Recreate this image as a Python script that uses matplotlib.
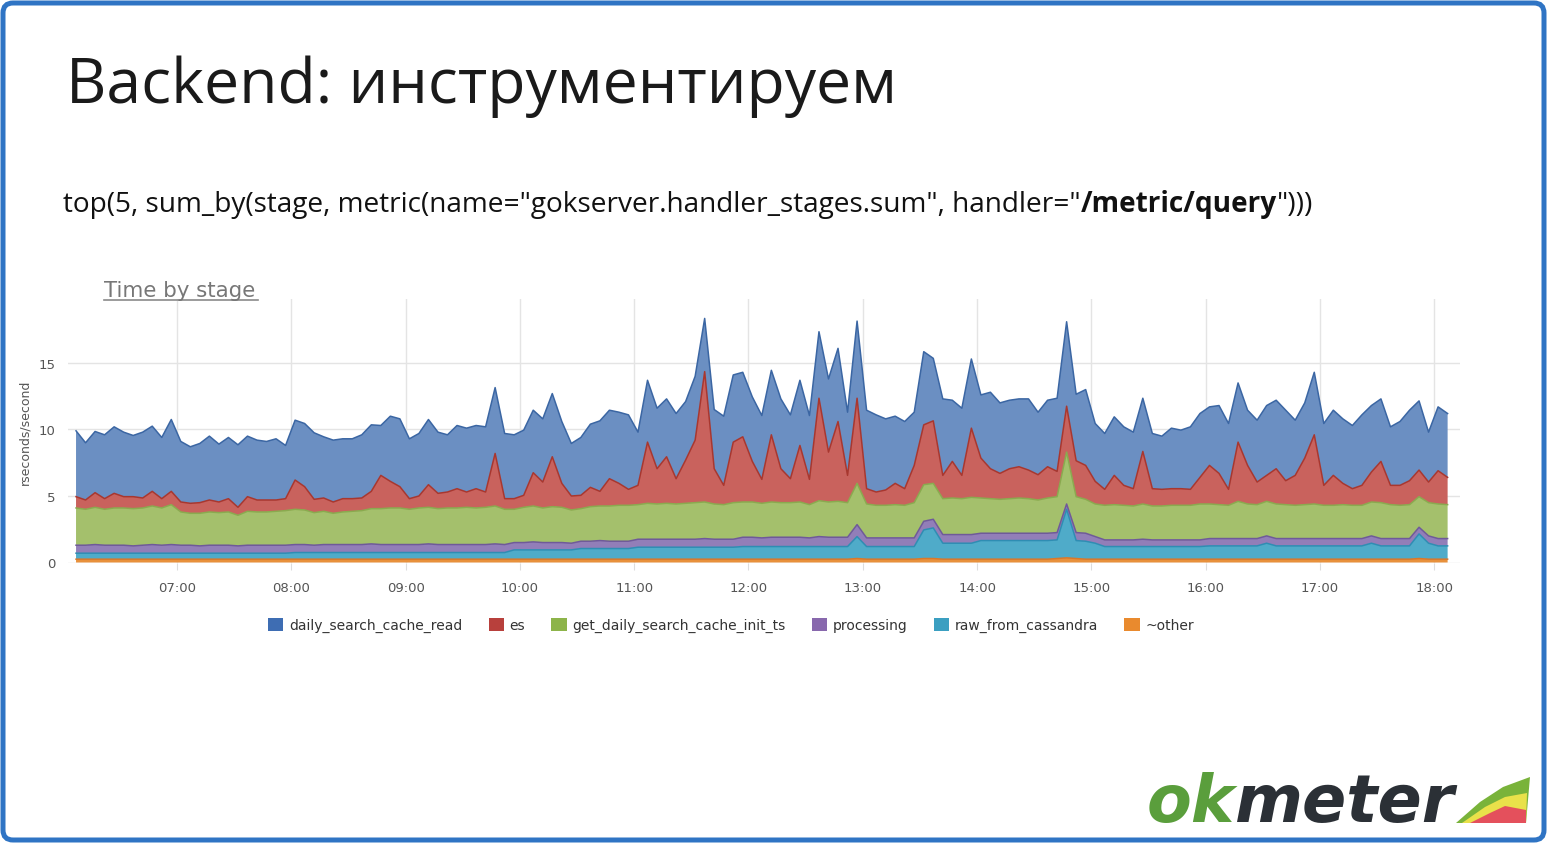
import numpy as np
import matplotlib
matplotlib.use("Agg")
import matplotlib.pyplot as plt
from matplotlib.patches import Patch, FancyBboxPatch, Polygon
from matplotlib.transforms import IdentityTransform

# --- данные (чтение с картинки), шаг 5 минут, старт 06:07 ---
start_hour = 6 + 7 / 60
step_min = 5

other = [0.25, 0.25, 0.25, 0.25, 0.25, 0.25, 0.25, 0.25, 0.25, 0.25,
         0.25, 0.25, 0.25, 0.25, 0.25, 0.25, 0.25, 0.25, 0.25, 0.25,
         0.25, 0.25, 0.25, 0.25, 0.25, 0.25, 0.25, 0.25, 0.25, 0.25,
         0.25, 0.25, 0.25, 0.25, 0.25, 0.25, 0.25, 0.25, 0.25, 0.25,
         0.25, 0.25, 0.25, 0.25, 0.25, 0.25, 0.25, 0.25, 0.25, 0.25,
         0.25, 0.25, 0.25, 0.25, 0.25, 0.25, 0.25, 0.25, 0.25, 0.25,
         0.25, 0.25, 0.25, 0.25, 0.25, 0.25, 0.25, 0.25, 0.25, 0.25,
         0.25, 0.25, 0.25, 0.25, 0.25, 0.25, 0.25, 0.25, 0.25, 0.25,
         0.25, 0.25, 0.3, 0.25, 0.25, 0.25, 0.25, 0.25, 0.25, 0.3,
         0.3, 0.25, 0.25, 0.25, 0.25, 0.25, 0.25, 0.25, 0.25, 0.25,
         0.25, 0.25, 0.25, 0.3, 0.35, 0.3, 0.25, 0.25, 0.25, 0.25,
         0.25, 0.25, 0.25, 0.25, 0.25, 0.25, 0.25, 0.25, 0.25, 0.25,
         0.25, 0.25, 0.25, 0.25, 0.25, 0.25, 0.25, 0.25, 0.25, 0.25,
         0.25, 0.25, 0.25, 0.25, 0.25, 0.25, 0.25, 0.25, 0.25, 0.25,
         0.25, 0.3, 0.25, 0.25, 0.25]

raw = [0.45, 0.45, 0.45, 0.45, 0.45, 0.45, 0.45, 0.45, 0.45, 0.45,
       0.45, 0.45, 0.45, 0.45, 0.45, 0.45, 0.45, 0.45, 0.45, 0.45,
       0.45, 0.45, 0.45, 0.5, 0.5, 0.5, 0.5, 0.5, 0.5, 0.5,
       0.5, 0.5, 0.5, 0.5, 0.5, 0.5, 0.5, 0.5, 0.5, 0.5,
       0.5, 0.5, 0.5, 0.5, 0.5, 0.5, 0.7, 0.7, 0.7, 0.7,
       0.7, 0.7, 0.7, 0.8, 0.8, 0.8, 0.8, 0.8, 0.8, 0.9,
       0.9, 0.9, 0.9, 0.9, 0.9, 0.9, 0.9, 0.9, 0.9, 0.9,
       0.95, 0.95, 0.95, 0.95, 0.95, 0.95, 0.95, 0.95, 0.95, 0.95,
       0.95, 0.95, 1.65, 0.95, 0.95, 0.95, 0.95, 0.95, 0.95, 2.15,
       2.3, 1.2, 1.2, 1.2, 1.2, 1.4, 1.4, 1.4, 1.4, 1.4,
       1.4, 1.4, 1.4, 1.4, 3.65, 1.35, 1.35, 1.2, 0.95, 0.95,
       0.95, 0.95, 0.95, 0.95, 0.95, 0.95, 0.95, 0.95, 0.95, 1.0,
       1.0, 1.0, 1.0, 1.0, 1.0, 1.2, 1.0, 1.0, 1.0, 1.0,
       1.0, 1.0, 1.0, 1.0, 1.0, 1.0, 1.2, 1.0, 1.0, 1.0,
       1.0, 1.85, 1.2, 1.0, 1.0]

processing = [0.6, 0.6, 0.65, 0.6, 0.6, 0.6, 0.55, 0.6, 0.65, 0.6,
              0.65, 0.6, 0.6, 0.55, 0.6, 0.6, 0.6, 0.55, 0.6, 0.6,
              0.6, 0.6, 0.6, 0.6, 0.6, 0.55, 0.6, 0.6, 0.6, 0.6,
              0.6, 0.65, 0.6, 0.6, 0.6, 0.6, 0.6, 0.65, 0.6, 0.6,
              0.6, 0.6, 0.6, 0.6, 0.65, 0.6, 0.55, 0.55, 0.6, 0.55,
              0.55, 0.55, 0.5, 0.55, 0.55, 0.6, 0.55, 0.55, 0.55, 0.6,
              0.6, 0.6, 0.6, 0.6, 0.6, 0.6, 0.65, 0.6, 0.6, 0.6,
              0.7, 0.7, 0.65, 0.7, 0.7, 0.7, 0.7, 0.65, 0.75, 0.7,
              0.7, 0.7, 0.9, 0.65, 0.65, 0.65, 0.65, 0.65, 0.65, 0.65,
              0.65, 0.65, 0.65, 0.65, 0.65, 0.55, 0.55, 0.55, 0.55, 0.55,
              0.55, 0.55, 0.55, 0.55, 0.4, 0.6, 0.6, 0.5, 0.5, 0.5,
              0.5, 0.5, 0.55, 0.5, 0.5, 0.5, 0.5, 0.5, 0.5, 0.55,
              0.55, 0.55, 0.55, 0.55, 0.55, 0.55, 0.55, 0.55, 0.55, 0.55,
              0.55, 0.55, 0.55, 0.55, 0.55, 0.55, 0.55, 0.55, 0.55, 0.55,
              0.55, 0.5, 0.55, 0.55, 0.55]

get_daily = [2.8, 2.7, 2.8, 2.7, 2.8, 2.8, 2.8, 2.8, 2.9, 2.8,
             3.0, 2.5, 2.4, 2.45, 2.5, 2.45, 2.5, 2.3, 2.55, 2.5,
             2.5, 2.55, 2.6, 2.65, 2.6, 2.45, 2.5, 2.35, 2.45, 2.5,
             2.55, 2.65, 2.7, 2.75, 2.75, 2.65, 2.75, 2.75, 2.7, 2.75,
             2.75, 2.8, 2.75, 2.8, 2.85, 2.65, 2.5, 2.65, 2.7, 2.6,
             2.7, 2.65, 2.5, 2.45, 2.6, 2.6, 2.65, 2.7, 2.7, 2.6,
             2.7, 2.65, 2.7, 2.65, 2.7, 2.75, 2.75, 2.65, 2.6, 2.75,
             2.65, 2.65, 2.6, 2.65, 2.6, 2.6, 2.65, 2.5, 2.7, 2.65,
             2.7, 2.6, 3.1, 2.55, 2.45, 2.45, 2.5, 2.45, 2.65, 2.75,
             2.7, 2.7, 2.75, 2.7, 2.8, 2.65, 2.6, 2.55, 2.6, 2.65,
             2.6, 2.5, 2.65, 2.7, 3.9, 2.7, 2.55, 2.45, 2.6, 2.65,
             2.6, 2.55, 2.65, 2.55, 2.55, 2.6, 2.6, 2.6, 2.7, 2.6,
             2.55, 2.5, 2.8, 2.6, 2.55, 2.6, 2.6, 2.55, 2.5, 2.55,
             2.6, 2.5, 2.5, 2.55, 2.5, 2.5, 2.55, 2.7, 2.55, 2.5,
             2.55, 2.3, 2.5, 2.6, 2.55]

es = [0.85, 0.7, 1.1, 0.8, 1.1, 0.85, 0.9, 0.75, 1.1, 0.7,
      1.0, 0.75, 0.75, 0.8, 0.9, 0.8, 1.0, 0.6, 1.1, 0.9,
      0.9, 0.85, 0.9, 2.2, 1.75, 1.0, 1.0, 0.85, 1.0, 0.95,
      0.95, 1.3, 2.5, 2.0, 1.6, 0.8, 0.9, 1.7, 1.15, 1.2,
      1.45, 1.15, 1.45, 1.15, 3.95, 0.8, 0.8, 0.9, 2.5, 1.95,
      3.75, 1.8, 1.05, 1.0, 1.45, 1.1, 2.05, 1.65, 1.2, 1.45,
      4.6, 2.65, 3.5, 1.9, 3.25, 4.7, 9.8, 2.65, 1.45, 4.55,
      4.9, 3.05, 1.8, 5.05, 2.55, 1.8, 4.25, 1.9, 7.7, 3.75,
      6.0, 2.05, 6.4, 1.15, 1.0, 1.15, 1.6, 1.25, 2.8, 4.5,
      4.7, 1.75, 2.75, 1.75, 5.2, 3.0, 2.25, 1.95, 2.25, 2.35,
      2.15, 1.9, 2.35, 1.9, 3.45, 2.7, 2.55, 1.7, 1.2, 2.2,
      1.5, 1.3, 3.95, 1.3, 1.25, 1.25, 1.25, 1.2, 2.0, 2.9,
      2.35, 1.2, 4.45, 2.9, 1.7, 1.95, 2.65, 1.8, 2.25, 3.5,
      5.2, 1.5, 2.25, 1.6, 1.25, 1.5, 2.25, 3.1, 1.45, 1.5,
      1.8, 2.0, 1.55, 2.5, 2.05]

daily_read = [4.95, 4.3, 4.6, 4.8, 5.0, 4.85, 4.6, 4.95, 4.9, 4.6,
              5.4, 4.55, 4.25, 4.45, 4.8, 4.35, 4.6, 4.7, 4.55, 4.5,
              4.4, 4.6, 4.0, 4.5, 4.75, 5.0, 4.6, 4.65, 4.5, 4.5,
              4.75, 5.0, 3.75, 4.9, 5.1, 4.5, 4.7, 4.9, 4.6, 4.3,
              4.75, 4.8, 4.75, 4.9, 4.95, 4.9, 4.8, 4.9, 4.7, 4.75,
              4.75, 4.65, 3.95, 4.35, 4.75, 5.3, 5.15, 5.35, 5.6, 4.0,
              4.65, 4.55, 4.35, 4.9, 4.4, 4.8, 4.0, 4.45, 5.2, 5.05,
              4.85, 4.85, 4.8, 4.85, 5.25, 4.8, 4.9, 4.8, 5.0, 5.5,
              5.5, 4.75, 5.8, 5.9, 5.8, 5.35, 5.05, 5.05, 4.0, 5.5,
              4.7, 5.75, 4.6, 5.05, 5.2, 4.75, 5.75, 5.3, 5.15, 5.1,
              5.35, 4.7, 5.0, 5.5, 6.35, 5.0, 5.7, 4.35, 4.2, 4.4,
              4.4, 4.25, 4.0, 4.15, 4.0, 4.55, 4.4, 4.7, 4.8, 4.4,
              5.1, 4.95, 4.45, 4.15, 4.65, 5.25, 5.15, 5.3, 4.15, 4.15,
              4.7, 4.65, 4.9, 4.85, 4.75, 5.3, 5.0, 4.7, 4.4, 4.8,
              5.3, 5.2, 3.75, 4.8, 4.8]

labels = ["daily_search_cache_read", "es", "get_daily_search_cache_init_ts",
          "processing", "raw_from_cassandra", "~other"]
hour_ticks = [7, 8, 9, 10, 11, 12, 13, 14, 15, 16, 17, 18]
y_ticks = [0, 5, 10, 15]

# снизу вверх
layers = [other, raw, processing, get_daily, es, daily_read]
fills = ["#e8913c", "#4fabc9", "#927eb8", "#a4c06c", "#c9625d", "#6b8fc2"]
edges = ["#d9782a", "#2f8db3", "#6f5a99", "#8aaa4f", "#a8372f", "#3b66a3"]
legend_cols = ["#3e6db3", "#b8403c", "#8db44a", "#8868ad", "#3b9fc1", "#e98a2e"]

hours = start_hour + np.arange(len(daily_read)) * step_min / 60

W, H = 1548, 845


def fx(x):
    return x / W


def fy(y):
    return 1 - y / H


fig = plt.figure(figsize=(W / 100, H / 100), dpi=100)
fig.patch.set_facecolor("white")

# рамка слайда
border = FancyBboxPatch((3, 4), 1541, 837, boxstyle="round,pad=0,rounding_size=10",
                        transform=IdentityTransform(), fill=False,
                        edgecolor="#2f74c4", linewidth=3.6)
fig.add_artist(border)

# заголовки
fig.text(fx(66), fy(103), "Backend: инструментируем", fontsize=45,
         family="Open Sans", color="#1a1a1a", va="baseline")

t1 = fig.text(fx(63), fy(212), 'top(5, sum_by(stage, metric(name="gokserver.handler_stages.sum", handler="',
              fontsize=20.2, family="Open Sans", color="#111111", va="baseline")

# график
ax = fig.add_axes([fx(68), fy(563.5), fx(1460) - fx(68), fy(300) - fy(563.5)])
ax.stackplot(hours, *layers, colors=fills, linewidth=0)
tops = np.cumsum(np.array(layers), axis=0)
for top, ec in zip(tops, edges):
    ax.plot(hours, top, color=ec, lw=1.1)

ax.set_xlim(6.0464, 18.225)
ax.set_ylim(0, 19.81)
ax.set_xticks(hour_ticks)
ax.set_xticklabels(["%02d:00" % h for h in hour_ticks])
ax.set_yticks(y_ticks)
ax.grid(True, color="#e4e4e4", lw=1)
ax.set_axisbelow(True)
for s in ax.spines.values():
    s.set_visible(False)
ax.tick_params(axis="x", length=5, color="#dddddd", pad=8, labelsize=9.5, labelcolor="#555555")
ax.tick_params(axis="y", length=0, pad=9, labelsize=9.5, labelcolor="#555555")

t2 = ax.annotate("/metric/query", xy=(1, 0), xycoords=t1, va="bottom", ha="left",
                 fontsize=20.2, family="Open Sans", fontweight="bold", color="#111111")
ax.annotate('")))', xy=(1, 0), xycoords=t2, va="bottom", ha="left",
            fontsize=20.2, family="Open Sans", color="#111111")

fig.text(fx(104), fy(297), "Time by stage", fontsize=15.4, color="#777777", va="baseline")
fig.add_artist(plt.Line2D([fx(104), fx(258)], [fy(301), fy(301)], color="#8a8a8a", lw=1.2))

fig.text(fx(25), fy(432), "rseconds/second", rotation=90, fontsize=9, color="#555555",
         ha="center", va="center")

handles = [Patch(facecolor=c, edgecolor="none") for c in legend_cols]
fig.legend(handles, labels, loc="center", bbox_to_anchor=(fx(731), fy(626)), ncol=6,
           frameon=False, fontsize=10, handlelength=1.1, handleheight=1.1,
           handletextpad=0.4, columnspacing=1.9, labelcolor="#333333")

# логотип
lg = fig.text(fx(1147), fy(822), "ok", fontsize=47, family="DejaVu Sans", fontweight="bold",
              style="italic", color="#5a9e3c", va="baseline")
ax.annotate("meter", xy=(1, 0), xycoords=lg, va="bottom", ha="left", fontsize=47,
            family="DejaVu Sans", fontweight="bold", style="italic", color="#2b3036")


def px(pts):
    return [(x, H - y) for x, y in pts]


fig.add_artist(Polygon(px([(1456, 824), (1480, 803), (1503, 788), (1530, 778), (1526, 824)]),
                       closed=True, transform=IdentityTransform(), facecolor="#79b33a", edgecolor="none"))
fig.add_artist(Polygon(px([(1462, 824), (1485, 808), (1505, 798), (1527, 794), (1526, 824)]),
                       closed=True, transform=IdentityTransform(), facecolor="#e9e14a", edgecolor="none"))
fig.add_artist(Polygon(px([(1470, 824), (1490, 814), (1505, 807), (1526, 811), (1526, 824)]),
                       closed=True, transform=IdentityTransform(), facecolor="#e4505c", edgecolor="none"))

fig.savefig("out.png", dpi=100, facecolor="white")
